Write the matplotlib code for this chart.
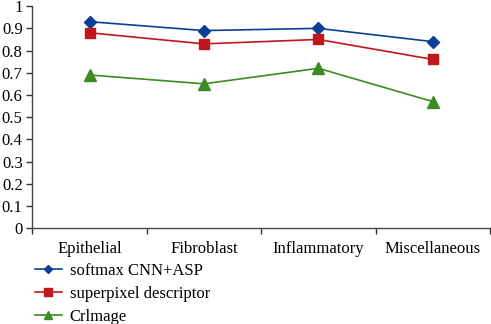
import matplotlib.pyplot as plt
import numpy as np

categories = ["Epithelial", "Fibroblast", "Inflammatory", "Miscellaneous"]
softmax_cnn = [0.93, 0.89, 0.90, 0.84]
superpixel = [0.88, 0.83, 0.85, 0.76]
crimage = [0.69, 0.65, 0.72, 0.57]

plt.rcParams['font.family'] = ['Liberation Serif', 'DejaVu Serif']

fig = plt.figure(figsize=(4.91, 3.24), dpi=100)
ax = fig.add_axes([0.066, 0.296, 0.932, 0.685])

x = np.arange(len(categories))
ax.plot(x, softmax_cnn, color="#0b3f94", marker="D", markersize=6.5, lw=1.2, label="softmax CNN+ASP")
ax.plot(x, superpixel, color="#c1161c", marker="s", markersize=7.5, lw=1.2, label="superpixel descriptor")
ax.plot(x, crimage, color="#3b8a23", marker="^", markersize=8, lw=1.2, label="Crlmage")

ax.set_xlim(-0.5, len(categories) - 0.5)
ax.set_ylim(0, 1)
ax.set_yticks(np.arange(0, 1.01, 0.1))
ax.set_yticklabels(["0"] + [f"{v:.1f}" for v in np.arange(0.1, 0.95, 0.1)] + ["1"])

ax.set_xticks(np.arange(-0.5, len(categories), 1.0))
ax.set_xticklabels([])
ax.set_xticks(x, minor=True)
ax.set_xticklabels(categories, minor=True)
ax.tick_params(axis="x", which="minor", length=0, pad=9, labelsize=12)
ax.tick_params(axis="x", which="major", length=4, width=1, color="#333333")
ax.tick_params(axis="y", length=4, width=1, color="#333333", labelsize=12, pad=3)

for s in ["top", "right"]:
    ax.spines[s].set_visible(False)
for s in ["left", "bottom"]:
    ax.spines[s].set_color("#444444")
    ax.spines[s].set_linewidth(1.0)

fig.legend(loc="upper left", bbox_to_anchor=(0.071, 0.188), frameon=False,
           fontsize=12, handlelength=1.6, handletextpad=0.5, labelspacing=0.42,
           markerscale=0.7, borderaxespad=0, borderpad=0)

fig.savefig("out.png", dpi=100)
